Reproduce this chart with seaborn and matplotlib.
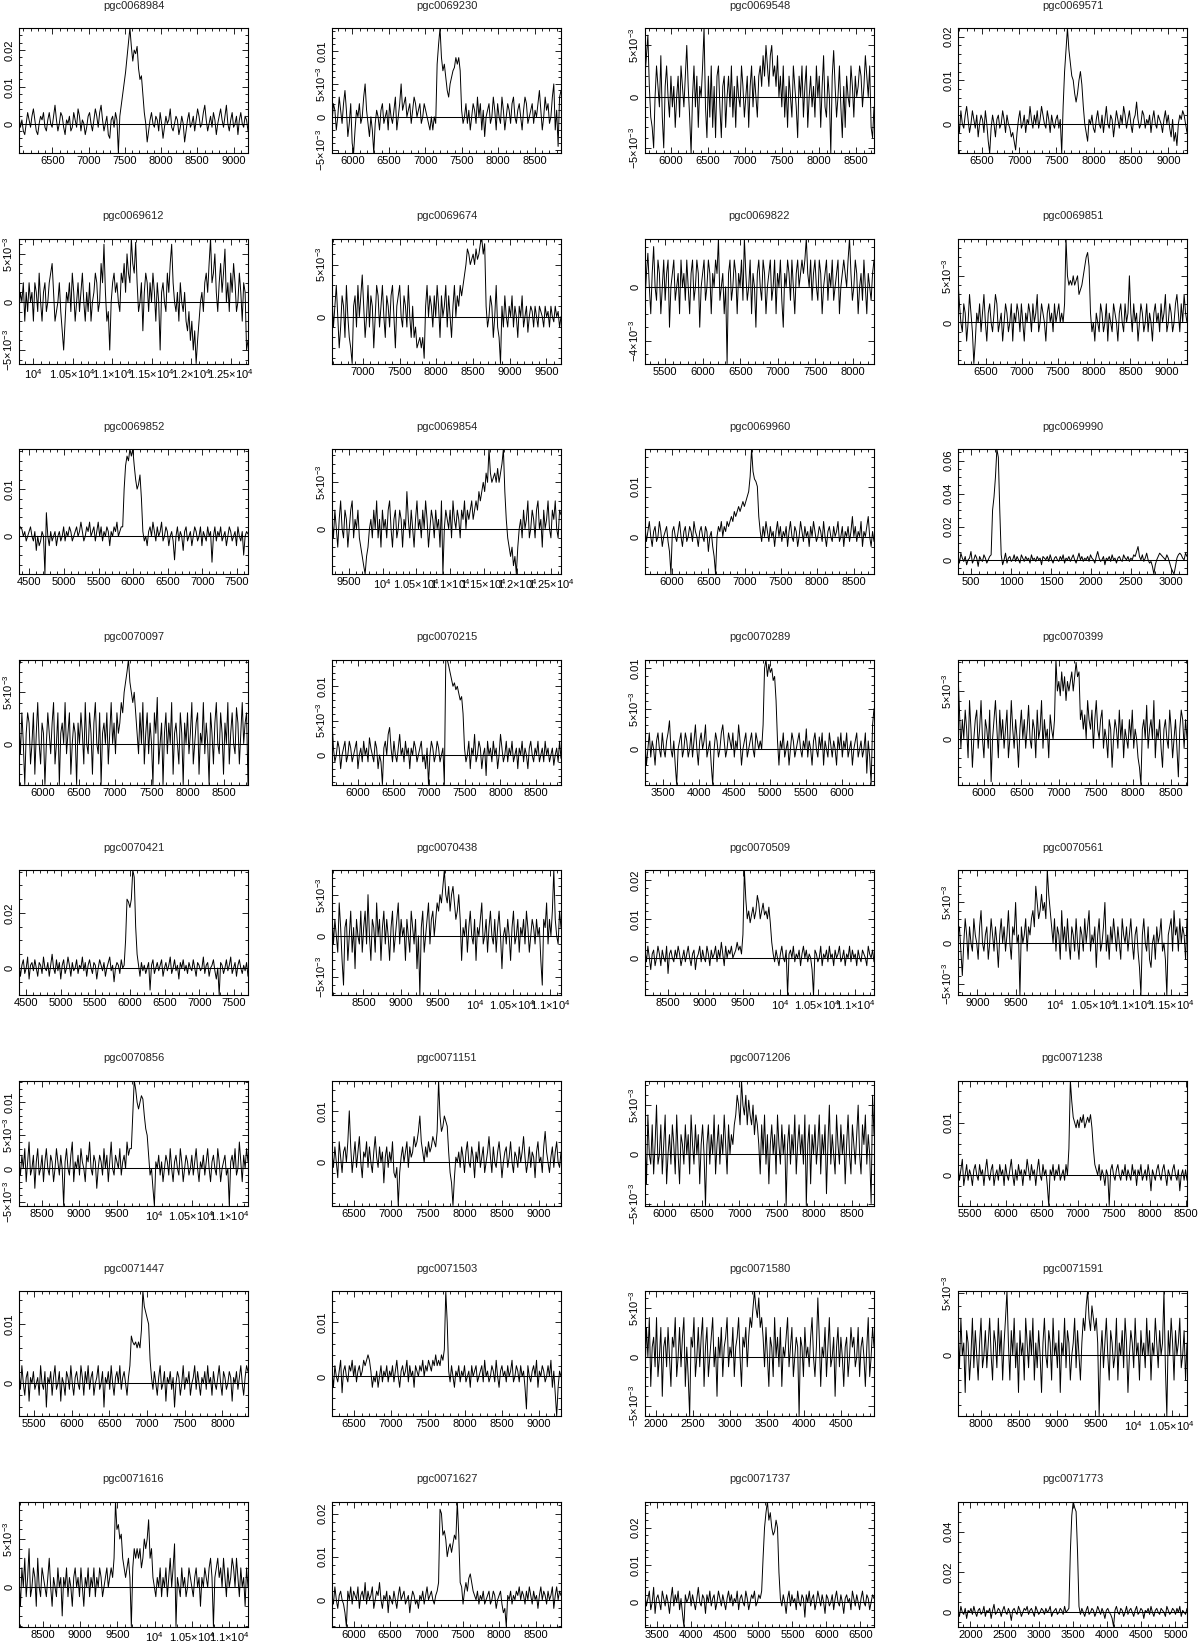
import numpy as np
import pandas as pd
import matplotlib
matplotlib.use("Agg")
import matplotlib.pyplot as plt
from matplotlib.ticker import MultipleLocator, FuncFormatter
import seaborn as sns

# ---------------- data (flux in mJy, channels evenly spaced over vel range) -------------
names = ["pgc0068984", "pgc0069230", "pgc0069548", "pgc0069571",
         "pgc0069612", "pgc0069674", "pgc0069822", "pgc0069851",
         "pgc0069852", "pgc0069854", "pgc0069960", "pgc0069990",
         "pgc0070097", "pgc0070215", "pgc0070289", "pgc0070399",
         "pgc0070421", "pgc0070438", "pgc0070509", "pgc0070561",
         "pgc0070856", "pgc0071151", "pgc0071206", "pgc0071238",
         "pgc0071447", "pgc0071503", "pgc0071580", "pgc0071591",
         "pgc0071616", "pgc0071627", "pgc0071737", "pgc0071773"]

vel_min = [6040, 5720, 5650, 6180, 9820, 6580, 5230, 6120,
           4350, 9250, 5630, 335, 5680, 5640, 3250, 5650,
           4400, 8080, 8200, 8750, 8200, 6200, 5740, 5340,
           5300, 6200, 1850, 7700, 8180, 5700, 3330, 1820]
vel_max = [9200, 8860, 8740, 9250, 12720, 9700, 8280, 9280,
           7660, 12650, 8780, 3200, 8830, 8850, 6450, 8720,
           7700, 11150, 11250, 11700, 11250, 9300, 8800, 8520,
           8340, 9300, 4950, 10700, 11250, 8850, 6700, 5170]
flux_min = [-8, -5.5, -5.5, -6.7, -6.4, -4.5, -5.7, -4.4,
            -8, -4.9, -7.5, -8.6, -4, -4.3, -4.4, -4.8,
            -9.8, -7.2, -9.5, -6.4, -5.6, -8.4, -5.2, -5.8,
            -5.5, -7.3, -6, -4.9, -4.1, -6.2, -6.5, -7]
flux_max = [26, 13.5, 6.7, 22, 6.6, 7.5, 3.6, 9,
            18.5, 8.6, 17.5, 67, 8.2, 13.9, 11.1, 8.3,
            35.6, 8, 22.5, 9, 13.3, 15.9, 7.5, 18,
            15.6, 15.8, 6.7, 5.2, 8.9, 22.8, 27, 55]
y_major = [10, 5, 5, 10, 5, 5, 4, 5, 10, 5, 10, 20, 5, 5, 5, 5,
           20, 5, 10, 5, 5, 10, 5, 10, 10, 10, 5, 5, 5, 10, 10, 20]
y_minor = [2, 1, 1, 2, 1, 1, 1, 1, 2, 1, 2, 5, 1, 1, 1, 1,
           5, 1, 2, 1, 1, 2, 1, 2, 2, 2, 1, 1, 1, 2, 2, 5]

f01 = [2, -1, 1, -2, -3, 0, 3, 1, -1, 2,
       4, 1, -2, -3, 0, 2, 1, 3, -1, -2,
       1, 3, 0, -1, 2, 5, 1, -2, 0, 3,
       2, -1, -3, 1, 0, 2, -2, -1, 3, 1,
       -1, 4, 2, -2, 1, 0, -3, -1, 2, 3,
       0, -2, 1, 4, 2, -1, 3, 5, 1, -2,
       0, 2, -3, -4, 1, 2, -1, 3, 1, -8,
       2, 5, 8, 11, 14, 18, 22, 26, 21, 17,
       20, 19, 21, 15, 12, 13, 8, 3, 0, -5,
       -2, 1, 3, 0, -1, 2, 1, -2, 3, 0,
       -4, -1, 2, 0, 1, 4, -1, -2, 0, 2,
       1, -3, -1, 2, 0, -5, -2, 1, 3, -1,
       0, 2, -2, 1, 4, 2, -1, 0, 3, 5,
       1, -2, 0, 2, -1, 3, 1, -3, 0, 2,
       4, 1, -1, 2, 5, 0, -2, 1, 3, -1,
       0, 2, -3, 1, 3, 0, -1, 2, 1, -2]
f02 = [-1, 2, 1, -2, 0, 3, 1, -1, 2, 4,
       1, -3, -1, 2, -4, -5.5, -2, 1, 0, 2,
       -1, 0, 3, 5, 1, -1, -3, 0, -2, -5.5,
       -1, 1, 0, -2, 1, 2, -1, 0, 1, -2,
       2, 0, -1, 1, 3, -2, 0, 2, 5, 1,
       2, 3, 0, 1, 2, -1, 1, 3, 2, 0,
       1, 2, -1, 0, 2, 1, 0, -1, -2, 0,
       -2, 0, -1, 8, 11, 13.5, 9, 7, 8, 6,
       4, 3, 5, 6, 7, 7.5, 9, 8, 9, 7,
       1, -1, 0, 2, -1, 1, -2, 0, 2, 1,
       -1, 3, 0, 2, -2, 1, -3, 0, 1, 2,
       -1, 0, 3, 1, -2, 2, 0, -1, 3, 1,
       -2, 0, 2, 1, -1, 2, 3, 0, -1, 1,
       2, 0, -2, 1, 3, 2, -1, 0, 1, 2,
       -1, 1, 0, 2, 4, 1, -2, 0, 3, 1,
       2, -1, 0, 3, 5, -2, 1, -4.5, 3, 4]
f03 = [2, 4, 6, 1, -2, -3, -5, 0, 3, 1,
       -1, 4, -2, -5, 1, 3, 0, -2, 2, -1,
       1, -3, 0, 2, -2, 3, 1, -1, 2, 5,
       1, -2, -5.5, 0, 3, -1, 2, -3, 1, 0,
       3, 6.7, -1, -4, 2, -2, 3, -3, 1, -4,
       2, 3, -1, -4, 1, 2, -3, 0, 2, -1,
       3, -2, 1, -3, 2, 0, -1, 3, 1, -2,
       0, 2, -3, 1, 3, -1, 2, 0, -2, 2,
       3, 1, 4, 2, 5, 3, 1, 4, 5, 2,
       3, 1, 4, 0, 2, -1, 3, -2, 1, -3,
       2, 0, -2, 3, 1, -1, -4, 2, 0, 3,
       -2, 1, 3, -3, 0, 2, -1, 1, -2, 3,
       0, 2, -3, 1, 4, -1, -2, 2, 0, -5.5,
       2, 4.5, 1, -2, 0, 3, -1, -4, 1, -3,
       2, 0, -1, 3, 1, -2, 2, 0, 1, 3,
       2, -1, 1, 4, 2, 0, 3, -3, -4, -1]
f04 = [1, -2, 3, 0, -1, 2, 4, 1, -2, 0,
       3, 1, -1, 2, -3, 0, 2, 1, -2, 3,
       0, -4, -6.7, -1, 2, 0, -3, 1, 2, -1,
       0, 3, 1, -2, 2, 0, -1, -3, -2, -4,
       -6, -2, 1, 3, -1, 0, 2, -2, 1, 0,
       4, 1, -1, 2, 0, 3, -1, 1, 4, 2,
       0, -1, 3, 1, -2, 2, 0, -1, 1, 2,
       -1, 1, -6.7, 4, 12, 17, 22, 17, 14, 11,
       10, 7, 5, 7, 10, 12, 9, 4, 0, -2,
       -4, 1, 0, 2, -1, -2, 1, 3, 0, -1,
       2, -2, 1, 4, 0, -1, 2, 1, -3, 0,
       3, 1, -1, 2, 0, 4, 2, -1, 1, 3,
       0, -2, 1, 2, 5, 1, -1, 0, 3, 2,
       -1, 1, 0, 2, -2, 1, 3, 0, -1, 2,
       1, 0, -2, 1, 3, 0, 2, -1, -3, 1,
       -4, -2, -5, 0, 2, 1, 3, 2, 0, -2]
f05 = [-1, 1, 0, 2, -2, 1, -1, 2, 0, 1,
       -2, 2, 1, -1, 3, 0, -2, 1, 2, -1,
       0, 2, 3, 4, 1, -2, -1, 0, 2, -1,
       -3, -5, -2, 1, 0, 2, -1, 3, 1, -2,
       0, 2, -1, 1, 3, 0, -2, 1, -1, 2,
       -2, 0, 1, 3, 2, -1, 0, 4, 2, 6,
       1, -2, -1, -5, 0, 2, 3, 1, 2, 0,
       -1, 3, 2, 4, 1, 5, 3, 2, 6.6, 4,
       3, 6.2, 2, -1, 0, 2, -3, 1, 3, 2,
       -1, 2, 0, 3, 1, -2, 2, 0, -5, 1,
       2, 0, -1, 3, 1, 4, 6, 2, 0, -1,
       1, -2, 2, 0, -1, 1, -2, -3, -1, -4,
       -2, -5, -3, -6.4, -4, -2, 0, 1, -1, 2,
       3, 1, 4, 6.6, 2, 3, 5, 1, -1, 2,
       4, 1, 3, 5.5, 0, 2, -1, 3, 1, 4,
       2, -1, 0, 3, 1, -2, 2, 1, -5, -4]
f06 = [2, -1, 1, 3, 0, -3, -1, 2, 1, -2,
       3, 0, -2, -3, -4.5, 1, 2, -1, 3, 0,
       2, 4, 1, -2, 0, 3, -1, 2, 1, -3,
       0, 3, 2, -1, 1, 3, 0, -2, 2, 1,
       -1, 2, 3, 0, -3, 1, 2, 3, 0, -1,
       2, 1, -1, 3, 0, -2, 1, -2, -1, -3,
       -2.5, -2, -3, -2, -4, 1, 3, 0, 2, 1,
       -1, 2, 0, 3, 1, -2, 2, 0, 1, 3,
       -1, 2, 0, -2, 1, 3, 0, 2, 1, 3,
       2, 3, 4, 5, 6.5, 6, 5, 5.5, 6, 5,
       6.5, 5.5, 6, 7, 7.5, 6, 7, 1, -1, 0,
       2, 1, -2, 0, 3, -1, -2, -4.5, 1, -1,
       2, 0, -1, 1, 0, 2, -1, 1, 0, -2,
       1, 0, 2, -1, 0, 1, -1.5, 0, 1, 0.5,
       -1, 1, 0, -1, 1, 0.5, 0, -1, 1, 0,
       0.5, -1, 1, 0, -0.5, 1, 0, 0.5, -1, 0]
f07 = [-1, 1, 2.5, 0, -2, 1, 3, 0, -1, 2,
       1, -2, 0, 2, -1, 1, 2, -3, 0, 1,
       2, -1, 0, 1, -2, 2, 0, 1, -1, 2,
       0, -2, 1, 2, -1, 0, 2, 1, -3, 0,
       1, 2, -1, 0, 2, 1, -2, 1, 0, 2,
       1, 3.6, -1, 0, 1, -2, 0, -5.7, 1, 2,
       -1, 0, 2, 1, -2, 1, 0, 2, -1, 3.6,
       1, -1, 0, 2, -2, 1, 0, -3, 1, 2,
       0, -1, 2, 1, -2, 0, 1, 2, -1, 0,
       2, -2, 1, 0, 2, -1, -3, 1, 0, 2,
       1, -1, 2, 0, -2, 1, 2, 0, 1, 2,
       1, 2, 3.6, 1, 0, 2, -1, 1, 2, 0,
       -1, 2, 1, -2, 0, 1, 2, -1, 1, 0,
       2, -1, 0, 1, 2, -2, 0, 1, 2, 1,
       0, 2, 3.6, 1, -1, 0, 2, 1, -2, 0,
       1, -1, 2, 0, -2, 1, 0, -1, 1, 2]
f08 = [4.5, 2, 0, -1, 2, 1, -2, 0, 3, 1,
       -1, -4.4, -2, 1, 0, 2, -1, 1, 3, 0,
       -2, 1, 2, 0, -1, 1, 3, 2, -1, 0,
       1, -2, 0, 2, 1, -1, 0, 2, -2, 1,
       0, 2, 1, -1, 2, 0, -2, 1, 0, 2,
       1, -1, 2, 0, 1, 3, -1, 0, 2, 1,
       0, -2, 1, 2, 0, 1, -1, 2, 0, 1,
       2, 0, 1, 0, 2, 9, 5, 4, 4.5, 4,
       5, 4, 4.5, 5, 3, 3.5, 4, 5, 6, 7,
       7.5, 6, 1, -1, 0, -2, 1, 0, -1, 2,
       1, -1, 0, 2, -2, 1, 0, -1, 2, 1,
       0, -2, 1, 2, 0, -1, 2, 0, 1, 5,
       1, -1, 2, 0, 1, -2, 0, 2, 1, -1,
       0, 2, -1, 1, 0, -2, 1, 2, 0, 1,
       -1, 2, 0, 1, 3, -1, 0, 2, 1, -1,
       0, 2, 3, 1, -1, 2, 0, 3, 1, 0]
f09 = [1, 2, 1.5, 0, 1, -1, 0, 1, 2, 0,
       -1, 1, -3, 0, -2, -1, 1, 0, -8, 5,
       0, -2, 1, -1, 0, 1, -2, 0, 1, -1,
       0, 2, -1, 1, 0, 2, 1, -1, 0, 1,
       2, 0, 1, 3, 1, -1, 0, 2, 1, 3,
       0, 1, 2, -1, 1, 3, 0, 2, -1, 1,
       0, 2, 1, -2, 1, 0, 2, 1, 3, 0,
       1, 2, 2, 10, 15, 17, 16, 18.5, 17, 18.5,
       15, 12, 10, 11, 13, 8, 1, -1, 0, -2,
       1, 2, 0, 3, 1, -1, 2, 0, 1, 3,
       -1, 0, 2, 1, -2, 0, 1, -1, -5, 0,
       2, -1, 1, 0, -3, 1, 2, -1, 0, 1,
       -2, 0, 2, 1, -1, 0, 2, -2, 1, 0,
       -1, 2, 0, 1, -5.5, 0, 2, -1, 1, 0,
       2, -1, 0, 1, -2, 0, 2, 1, -1, 0,
       1, -2, 2, 0, -1, 1, -4, 0, 1, 0.5]
f10 = [1, -1, 2, 0, -2, 1, 3, 0, -1, 2,
       1, -2, 0, 2, 3, -1, 1, 0, 2, -1,
       -2, -3, -4, -4.9, -3, -2, 0, 1, -1, 2,
       0, 3, -1, 1, -2, 2, 0, 1, -1, 2,
       3, 0, -2, 1, 2, -1, 0, 2, 1, -2,
       1, 0, 4, 1, -1, 2, 0, -2, 1, 3,
       0, 1, -1, 2, 0, 3, 1, -2, 0, 2,
       1, -1, 2, 0, 1, -2, 3, -4.9, 0, 2,
       1, 0, 2, -1, 3, 1, 0, 2, 1, -1,
       2, 1, 3, 0, 2, 1, 2, 3, 1, 2,
       3, 2, 4, 3, 4, 5, 4, 6, 5, 8.6,
       6, 5, 5.5, 6, 5, 6.5, 5, 6, 7, 8.6,
       4, 1, -1, -2, -3, -2, -4, -3, -4.9, -2,
       0, 1, -1, 2, 0, 1, 3, -1, 0, 2,
       1, -1, 2, 3, 0, 1, -2, 2, 0, 1,
       3, 0, -1, 2, 1, 3, 0, -1, 2, 1.5]
f11 = [2, -1, 1, 3, 0, -2, 1, 2, -1, 0,
       3, 1, -2, 0, 1, 2, -1, -3, -7.5, 1,
       2, 0, -1, 1, 3, 0, -2, 1, 2, -1,
       0, 2, 1, -1, 3, 1, 0, -2, 1, 2,
       0, -1, 2, 1, -3, 0, 1, -2, -4, -7.5,
       0, 2, 1, 3, 0, 2, 1, 3, 2, 3,
       4, 3, 5, 4, 5, 6, 5, 6, 7, 6,
       7, 8, 9, 12, 17.5, 13, 11.5, 11, 10, 4,
       1, -1, 2, 0, 3, 1, -1, 2, 0, 1,
       -2, 1, 3, 0, 2, -1, 1, 0, 2, -2,
       1, 3, 0, -1, 2, 1, -2, 0, 3, 1,
       -1, 2, 0, 1, -2, 2, 0, 3, 1, -1,
       0, 2, 1, -1, 3, 0, -2, 1, 2, 0,
       -1, 2, 0, 1, 3, -1, 0, 2, -2, 1,
       0, 2, -1, 1, 4, 0, 2, -1, 1, 0,
       3, -2, 1, 0, 2, 4, 0, -2, 1, -1]
f12 = [3, -2, 4, 1, -1, 2, -3, 0, 1, 5,
       -2, 0, 3, 1, -4, 2, 0, -1, 3, 1,
       -2, 0, 2, 3, 30, 38, 50, 67, 62, 30,
       3, -3, 0, 4, -2, 1, 2, -1, 0, 3,
       -1, 2, 0, -2, 3, 1, -1, 2, 0, 1,
       -2, 3, 0, 1, -1, 2, 0, 1, -3, 2,
       1, 0, 2, -1, 3, 0, -2, 1, 2, 0,
       -1, 2, 0, 3, -2, 1, 0, 2, -1, 1,
       3, 0, -2, 1, 4, 0, 2, -1, 1, 0,
       2, -1, 3, 1, 0, -2, 2, 5, 1, -1,
       0, 2, -3, 1, 0, 2, -1, 3, 0, 1,
       -2, 1, 2, 0, -1, 3, 1, 0, 2, -1,
       1, 0, 3, 2, 5, 8, 2, 0, 3, -1,
       1, 4, 0, -2, -1, -4, -8.6, -3, 0, 2,
       4, 3, 2, 1, 0, 3, 1, -2, -5, -7,
       -8.6, -4, 1, 3, 4, 3, 1, 0, 4, 2]
f13 = [2, -1, 3, 0, -4, 1, 3, 2, -2, 0,
       3, -3, 1, 4, 0, -2, 2, 1, -4, 0,
       3, 1, -1, 2, 4, -2, 0, 3, -4, 1,
       2, 0, 4, -1, 1, 3, -3, 0, 2, 1,
       -4, 2, 0, 3, 1, -2, 4, 0, -1, 3,
       1, -3, 2, 4, 0, -1, 3, -4, 1, 2,
       0, 3, -2, 1, 4, 0, 2, -1, 3, 1,
       2, 4, 3, 5, 6, 7, 8.2, 6, 5, 4,
       5, 3, 1, -1, 3, 0, 4, -2, 1, 3,
       -1, 2, 0, -4, 3, 1, 4.5, -2, 0, 2,
       -4, 1, 3, -1, 2, 0, 4, -3, 1, 2,
       0, -2, 3, 1, -4, 2, 0, 3, -1, 1,
       4, -2, 0, 2, 3, -3, 1, 0, 4, -1,
       2, 0, -4, 3, 1, -2, 2, 4, 0, -1,
       3, 1, -3, 2, 0, 4, -2, 1, 3, 0,
       -1, 3.5, 2, -2, 1, 4, 0, 2, 3, -4]
f14 = [5, 1, -1, 0, 2, 1, -2, 0, 1, 2,
       -1, 0, 2, 1, -1, 0, 1, 2, -2, 0,
       1, -1, 2, 0, 1, -1, 2.5, 1, 0, -1,
       2, 1, -2, 0, -1, -4.3, 1, 2, 0, 3,
       4, 1, -1, 2, 0, -1, 1, 3, 0, 1,
       -1, 2, 0, 1, -2, 1, 0, 2, 1, -1,
       0, 1, 2, -1, 0, -2, 1, -4.3, 0, 2,
       1, -1, 0, 2, 1, -1, 0, 1, -4.3, 13.9,
       13.9, 13, 12, 11, 10, 10.5, 9.5, 10, 9, 8,
       8.5, 6, 1, -1, 0, 2, -2, 1, 0, 3,
       -1, 0, 2, 1, -2, 0, 1, -3, 2, 0,
       1, -1, 2, 0, 1, -2, 0, 3, 1, -1,
       0, 2, -1, 1, 0, 2, -1, 0, 1, -2,
       1, 0, 2, -1, 1, 0, -2, 1, 2, 0,
       -1, 1, 0, 2, -1, 0, 1, -1, 2, 0,
       1, -1, 0, 1, -1.5, 0, 1, -1, 2, -0.5]
f15 = [1, -2, 0, 2, -1, 1, 0, -2, 1, 2,
       0, -1, 2, 0, -1, 1, 2, 3.5, 0, -1,
       1, -2, -4.4, 0, 1, 2, -1, 0, 2, 1,
       -1, 0, 2, -1, 1, 3, 0, -2, 1, 2,
       0, 1, 3, -1, 0, 1, -2, -4.4, 0, 2,
       1, -1, 0, 2, 3, 1, -1, 0, 2, 1,
       0, 2, -1, 1, 0, 3, 1, -2, 0, 1,
       2, -1, 0, 1, 2, 0, -1, 2, 1, 0,
       1, 0, 3, 10, 11.1, 9, 10.5, 9.5, 10, 8.5,
       9, 6, 1, -2, 1, 0, 2, -1, 0, 1,
       -2, 0, 2, 1, -1, 0, 1, 2, 0, -1,
       1, 0, 2.5, -1, 1, 0, -2, 1, 2, 0,
       -1, 1.5, 0, 2, -2, 1, 0, -1, 2, 0.5,
       -1, 1, 0, -2, 1.5, 0, 2, -1, 1, 0,
       2, -1, 0, 1, -2, 0, 1, 2, -1, 0,
       1, -1, 0, 2, -3, 1, -1, -4.4, 3, 5]
f16 = [7, 3, -1, 2, 0, 3, 1, -2, 4, 1,
       -3, 0, 2, 3, -1, 1, 4, 0, -2, 2,
       1, -1, 3, -4.5, 0, 2, 4, 1, -2, 3,
       0, 2, -1, 1, 3, -2, 0, 4, 1, -1,
       2, 0, -3, 1, 3, 0, 2, -1, 1, 3.5,
       0, -1, 2, 1, -2, 3, 0, 1, 4, -1,
       2, 0, 1, -2, 2.5, 1, 0, 2, 8.3, 5,
       6, 4.5, 7, 5, 6.5, 4, 6, 5, 6, 7,
       5, 6.5, 8, 6.5, 7, 2, 3, 1, 2.5, 0,
       4, 2, 1, 3, -1, 2, 4, 1, 0, 2,
       3, -1, 1, 0, -2, 2, 1, -3, 0, 2,
       1, -1, 3, 0, 2, -2, 1, 0, -1, 2,
       0, 3, -1, 1, 0, -2, -3, -4.8, 1, 2,
       0, 3.5, -1, 1, 2, 0, 4, -2, 1, 0,
       2, -1, -3, 1, 2, 0, -1, 3, 1, -2,
       0, 2, -1, -4, 1, 3, 2, -1, 2, 0]
f17 = [2, -3, 1, 3, -2, 0, 4, -4, 1, 2,
       -1, 3, 0, -3, 2, 1, -2, 4, 0, -1,
       2, -3, 1, 5, 0, -2, 3, -1, 2, -4,
       1, 3, -2, 0, 4, 1, -3, 2, -1, 0,
       3, -2, 1, 0, 4, -1, 2, -3, 1, 3,
       0, -2, 2, 1, -4, 0, 3, 1, -1, 2,
       -3, 0, 2, 4, -1, 1, -5, 0, 2, 1,
       -2, 3, 0, 1, 10, 25, 24, 22, 25, 35.6,
       33, 15, 5, 1, -3, 2, -1, 1, -2, 0,
       2, -8, 1, 3, -2, 0, 2, -1, 1, 3,
       -3, 0, 2, -1, 1, 4, -2, 0, 3, -1,
       1, -4, 2, 0, 3, -1, 1, -2, 2, 0,
       -1, 3, 0, -3, 2, 1, -1, 0, 4, -2,
       1, 2, -3, 0, 1, 3, -1, -4, 0, -9.8,
       2, 1, -2, 0, 3, -1, 1, 4, -2, 0,
       2, -3, 1, 3, 0, -2, 1, -1, 2, -3]
f18 = [3, -1, 2, 0, -2, 4, 1, -3, -6, 1,
       2, -3, 0, 3, -2, 1, -4, 2, 0, -1,
       3, -2, 1, 3, -1, 5, 0, -3, 2, 1,
       -2, 4, 0, 2, -3, 1, 3, -1, 2, 0,
       -3, 1, 3, -2, 0, 2, 4, -1, 2, 0,
       1, -3, 2, 0, -2, 3, 1, -1, 2, -4,
       0, -7.2, 1, 3, -2, 0, 2, 4, -1, 2,
       3, 0, 2, 4, 3, 5, 4, 6, 8, 5,
       4, 6, 3, 5, 6, 4, 2, 3, 5, 2,
       -3, 1, 0, 2, -2, 1, 3, 0, -1, 2,
       -3, 1, 0, 2, 4, -1, 0, 2, -2, 1,
       3, 0, -1, 2, -2, 1, 3, 0, -4, 0,
       1, -1, 2, 0, -3, 1, 3, -1, 0, 2,
       -2, 1, 0, 2, -1, 3, 1, -2, 0, 2,
       1, -1, 2, 0, 1, -3, -6, 2, 1, 4,
       -1, 2, 0, 3, 8, 2, 0, -1, 3, 1]
f19 = [2, -1, 3, 0, -3, 1, 2, -2, 0, 3,
       1, -2, 2, 0, -1, 3, -4, 1, 2, 0,
       -1, 2, 0, 3, 1, -2, 0, 2, -1, 1,
       3, 0, -2, 1, 2, -3, 0, 1, 3, -1,
       2, 0, -1, 3, 1, -2, 2, 0, 1, 3,
       -1, 2, 0, 4, 1, -2, 3, 0, 2, 1,
       3, 0, 1, 2, 4, 2, 3, 1, 6, 22.5,
       15, 10, 12, 9, 11, 13, 10, 12, 16, 14,
       10, 12, 14, 11, 12, 10, 13, 9, 4, 1,
       -1, 2, 0, -2, 1, 3, 0, -1, 2, -9.5,
       1, 2, 0, 3, -1, 1, 0, 2, -2, 1,
       3, 0, 2, -1, 1, 0, -3, -9.5, 2, 1,
       -1, 0, 3, -2, 1, 0, 2, -1, 3, 0,
       1, -2, 2, 0, 1, 3, -1, 0, 2, -2,
       1, 0, 3, -1, 2, 0, 1, -2, 2, 0,
       -1, 2, 1, 0, -2, 3, 1, 0, 2, -1]
f20 = [1, 2, -1, -4, 0, 3, 1, -2, 2, 0,
       -1, 3, 1, 0, -2, 2, 4, 0, -1, 1,
       2, -2, 0, 3, 1, -1, 2, 0, -3, 1,
       3, 0, 2, -1, 1, 4, 0, -2, 2, 1,
       5, 0, 1, -6.4, 2, 0, 1, 3, -1, 2,
       1, 3, 4, 2, 7, 5, 3, 4, 6, 4,
       5, 3, 9, 6, 4, 2, 0, 3, -1, 2,
       1, -2, 4, 0, 2, -1, 3, 0, -2, 2,
       1, -1, 3, 0, -2, 2, 1, -1, 3, 0,
       2, 4, -1, 1, 0, 2, -3, 1, 3, -1,
       0, 2, 5, -1, 1, -2, 2, 0, 3, 1,
       -1, 2, 0, -2, 3, 1, 0, 2, -1, 1,
       3, 0, -2, 1, 2, -1, -3, -6.4, 1, 3,
       0, -1, 2, -2, -3, 0, 1, -2, 2, 0,
       1, 3, -1, 0, -2, -6.4, 1, 2, 3, -1,
       4, 1, 2, -1, 3, 0, 2, 1, -2, 3]
f21 = [1, -1, 2, 0, 3, -2, 1, 4, -1, 0,
       2, -3, 1, 3, -1, 0, 2, -2, 1, 3,
       0, -1, 2, 1, -2, 0, 3, 1, -1, 2,
       0, -5.6, 1, 3, 0, -1, 2, 4, -2, 1,
       0, 2, -1, 3, 1, 0, -2, 2, 1, 4,
       0, -1, 2, 1, -3, 0, 2, 1, -1, 3,
       0, 2, -2, 1, 4, 0, -1, 2, 1, 0,
       3, -1, 1, 2, 0, 4, 2, 3, 3, 8,
       13.3, 12, 10, 9, 10, 11, 10.5, 8, 6, 5,
       2, -1, 0, -3, -5.6, 1, 0, 2, -1, 1,
       -2, 0, 2, 1, -1, 3, 0, -2, 1, 2,
       0, -1, 3, 1, -2, 0, 2, 1, -1, 0,
       2, -1, 1, 3, 0, -2, 1, 0, 2, -1,
       1, 3, 0, -2, 1, 2, 0, -1, 3, 1,
       -2, 0, 1, 2, -1, 0, -5.6, 1, 2, 0,
       3, -1, 0, 4, 1, -2, 2, 0, 3, 1]
f22 = [2, -1, 3, 0, -3, 4, 1, -2, 2, 3,
       0, 4, 10, 3, -2, 1, 4, -1, 2, 5,
       0, -3, 2, 1, 4, -1, 3, 0, -2, 2,
       5, 1, -1, 3, 0, 2, -4, 1, 3, -1,
       2, 0, 4, -2, -3, -1, -8.4, -2, 1, 3,
       0, 2, 4, -1, 3, 1, 2, 5, 3, 4,
       6, 9, 4, 2, 0, 3, 1, 4, 2, 3,
       5, 4, 3, 6, 15.9, 9, 6, 7, 9, 8,
       7, 2, -2, -4, -8.4, -3, 1, 0, 2, -1,
       3, 1, -2, 2, 4, 0, -1, 3, 1, -3,
       2, 0, 4, -1, 1, 3, -2, 0, 2, 5,
       1, -2, 3, 0, -1, 2, 4, 1, -3, 0,
       2, 3, -1, 1, 4, 0, -2, 2, 1, -1,
       3, 0, 2, 5, 1, -2, 0, 3, -1, 2,
       1, -3, 2, 4, 0, 1, -2, 3, 6, 2,
       0, -2, 1, 3, -1, 2, 4, 0, -1, 2]
f23 = [2, -3, 4, 0, -1, 3, -2, 1, 5, -1,
       0, 3, -2, 1, 4, -3, 0, 2, -1, 3,
       1, -2, 4, 0, -3, 2, 1, -1, 3, 0,
       2, -2, 4, 1, -1, 3, 0, 2, -3, 1,
       3, 0, -5.2, 1, 3, -1, 2, 0, 4, -2,
       1, 3, -1, 2, 0, 4, 1, -2, 3, 0,
       2, 1, 3, 4, 6, 5, 3, 7.5, 5, 4,
       6, 3, 5.5, 4, 3, 5, 2, 4, 3, 1,
       -2, 3, 0, 4, -1, 2, -3, 1, 3, 0,
       2, -2, 4, 1, -1, 3, 0, 2, -5.2, 1,
       3, -1, 2, 0, 4, -2, 1, 3, 0, 2,
       -1, 4, -5.2, 1, 3, -3, 2, 0, 3, -1,
       1, 4, -2, 2, 0, 3, -4, 1, 5, -1,
       2, 0, -2, 4, 1, -1, 3, 0, 2, -3,
       1, 4, 0, -2, 3, 1, -1, 2, 5, 0,
       -2, 3, 1, 4, -1, 2, 0, -5, 6, 2]
f24 = [2, -1, 1, 3, -2, 0, 2, -1, 1, 0,
       -2, 1, 2, 0, -1, 2, 0, 1, -2, 1,
       3, 0, -1, 1, 2, -2, 0, 1, -1, 2,
       0, 1, -2, 2, 0, -1, 1, 3, 0, -2,
       1, -1, 2, 0, 1, -2, 1, 0, 3, 1,
       -1, 2, 0, 1, -2, 1, 3, 0, -1, 2,
       0, 1, -2, -5.8, 1, 0, 2, -1, 1, 0,
       2, -1, 0, 1, -1, 2, 0, 5, 18, 14,
       11, 10, 9, 10.5, 9, 11, 10, 11.5, 9, 10,
       11, 10, 11.5, 9, 5, 2, 1, 0, 2, -1,
       1, 0, -2, 1, 0, -5.8, 1, 2, 0, -1,
       1, 2, 0, -1, 1, 0, 2, -1, 1, 0,
       -1, 2, 0, 1, -2, 1, 0, 2, -1, 0,
       1, -1, 2, 0, -3, 1, 0, -1, 1, 2,
       0, -1, 1, 2, 0, -2, 1, 0, -1, 1,
       2, 0, -1, 1, -3, 0, 1, -1, 1, -1]
f25 = [2, -1, 3, 0, -2, 1, 2, -3, 1, 0,
       2, -1, 0, 1, -2, 3, 0, -1, 2, -4,
       1, 0, 2, -2, 1, 3, -1, 0, 2, -3,
       1, 0, -2, 2, 1, -1, 3, 0, -2, 1,
       2, 0, -1, 3, 1, -2, 2, 0, 3, -1,
       1, 2, -2, 0, 1, 3, -1, 0, 2, -4,
       1, 0, 2, -1, 3, 0, -2, 1, 2, 0,
       3, -1, 1, 2, 0, -2, 1, 3, 8, 7,
       6.5, 7, 6, 7, 6, 9, 15.6, 13, 12, 11,
       10, 4, 1, -1, 2, 0, -2, 1, 3, -1,
       0, 2, -3, 1, 0, 2, -1, 1, -4, 0,
       2, 1, -2, 0, 3, -1, 1, 0, 2, -2,
       0, 1, 3, -1, 2, 0, -2, 1, 0, 2,
       -1, 3, 0, 1, -2, 2, 0, -1, 1, 3,
       0, -2, 2, 1, -1, 0, 2, 1, -3, 1,
       0, 2, -1, 1, 3, 0, -2, 1, 3, 2]
f26 = [1, -2, 2, 0, -1, 1, 3, -3, 1, 2,
       0, -1, 2, 1, 3, 0, 2, -1, 1, 2,
       0, 1, 3, 2, 3, 4, 3, 1, -2, 0,
       -1, 1, -2, 0, 2, -1, 1, 0, 2, -1,
       1, 0, 2, -1, 1, 3, 0, -2, 1, 2,
       0, 1, 3, -1, 2, 0, 1, -2, 2, 1,
       0, 2, 1, 3, 0, 2, 1, 3, 2, 1,
       3, 2, 4, 2, 3, 2, 4, 3, 5, 15.8,
       10, 1, -1, 2, 0, -2, 1, 0, 2, -1,
       1, 0, 2, -1, 0, 1, -2, 2, 0, 1,
       2, -1, 0, 1, 2, -1, 3, 0, 1, -1,
       0, 2, 1, -1, 3, 0, -2, 1, 2, 0,
       1, -1, 2, 0, 1, 3, -1, 0, 2, 1,
       -1, 2, 0, 1, -2, -6, 2, 0, -1, 1,
       2, 0, 3, -2, 1, 0, 2, 1, -1, 0,
       2, 0, 3, -2, 1, -3, -7.3, -2, 1, 0]
f27 = [-2, 3, 0, 4, -3, 1, 2, -1, 4, -2,
       0, 3, -4, 1, 2, -1, 3, 0, -3, 2,
       1, 4, -2, 0, 3, -1, 2, 4, -3, 1,
       -2, -6, 2, 1, 4, -2, 0, 3, -1, 2,
       4, -3, 1, 3, -2, 0, 2, 4, -1, 1,
       -4, 2, 0, 3, -2, 1, 2, 4, -1, 1,
       0, 3, -2, 1, 2, 4, 0, -3, 2, 1,
       3, -1, 2, 4, 3, 5, 6.7, 5, 4, 6,
       3, 4, 2, -1, 3, 0, -3, 2, 1, -2,
       4, 0, 2, -1, 3, -3, 1, 0, 2, 4,
       -1, 1, 3, -2, 0, 2, 1, -6, 2, 1,
       -2, 3, 0, 1, -1, 2, 4, 0, -2, 1,
       6, 2, -3, 1, 0, 3, -2, 1, 4, -1,
       0, 2, -4, 1, 3, -1, 2, 0, -3, 1,
       2, -2, 0, 3, 1, 2, -1, 0, 3, -2,
       1, 2, 0, -3, 1, 4, -2, 0, 3, 1]
f28 = [2, -1, 3, 0, 1, -3, 2, 1, -2, 0,
       3, -1, 2, 0, -2, 1, 3, -1, 0, 2,
       -1, 1, 3, 0, -2, 2, 1, -1, 3, 0,
       2, -2, 1, 3, 5.2, 1, -2, 2, 0, 3,
       -1, 1, -3, 2, 0, 1, -2, 3, 1, -1,
       2, 0, 3, -2, 1, -1, 2, 0, -3, 1,
       3, 0, -1, 2, 1, -2, 3, 0, 1, -1,
       2, -3, 1, 0, 3, -1, 2, 1, -2, 0,
       1, 3, -1, 2, 0, -2, 1, 3, 2, 4,
       5.2, 3, 2, 4, 3, 2, 3, 1, -4.9, 0,
       2, -1, 1, 3, 0, -2, 2, 1, -1, 0,
       3, -2, 1, 0, 2, -1, 3, 1, -3, 0,
       2, 1, -1, 3, 0, 1, -2, 2, 0, 1,
       -1, 3, 0, 2, -2, 1, 0, 3, 1, -1,
       2, 0, 1, 5.2, -1, -4.9, 2, 0, 3, 1,
       -2, 2, 0, 1, 3, -1, 0, 2, -2, 1]
f29 = [1, -2, 2, 0, 3, -1, 1, 4, -1, 0,
       2, 1, -2, 3, 0, -1, 2, 1, 0, -1,
       1, 3, 0, -2, 1, 0, -1, 2, 0, 1,
       -3, 1, 0, 2, -1, 1, 0, -2, 1, 2,
       0, 1, -1, 2, 0, -2, 1, 0, 2, -1,
       1, 0, 2, -1, 1, 0, 2, 1, -1, 0,
       1, 2, 0, 1, 2, 1, 3, 8.9, 6, 6.5,
       5, 5.5, 3, 2, 1, 2, 3, 1, -4.1, 2,
       4, 3, 4, 3, 4, 2, 3, 5, 4, 5,
       7, 3, 4, 1, 0, -1, 1, 0, 2, -1,
       1, 0, 2, -1, 1, 3, 0, 2, 4.5, -4.1,
       1, 0, -1, 2, 0, 1, -1, 0, 2, 1,
       0, -1, 1, 2, 0, 1, -2, 1, 0, 2,
       1, 0, 2, 3, 1, -4.1, 1, 2, 3, 1,
       2, 0, 3, 1, -1, 2, 0, 1, 3, 2,
       0, 3, 1, -1, 2, 0, 1, -2, 2, 0]
f30 = [1, -1, 3, 0, -2, 1, 2, 0, -1, -3,
       -6.2, 2, 0, 3, -1, 2, 1, 0, 3, -2,
       1, 2, 0, 4, -1, 2, 0, 1, 3, -2,
       0, 2, 1, 4, 0, -2, 1, 0, 2, -3,
       1, 0, -1, 2, 0, -2, 1, 3, 0, 1,
       2, -1, 0, 1, -3, 0, 2, 1, -1, 0,
       -2, 1, 0, 2, -1, 1, 3, 0, 1, 2,
       0, -1, 1, 2, 4, 21, 20, 15, 16, 14,
       10, 12, 13, 11, 13, 15, 14, 22.8, 15, 4,
       3, -1, 2, 4, 2, 5, 6, 4, 2, 1,
       0, 2, -1, 1, 0, 2, -1, 0, 1, 2,
       -1, 0, 2, 1, -2, 0, 1, 2, -1, -3,
       -2, -6.2, 1, 0, 2, -1, 1, 0, 2, 1,
       3, 0, 2, 1, -1, 2, 0, 3, 1, -1,
       2, 0, 1, -2, 1, 3, 0, 2, 1, -1,
       2, 0, 1, 3, -2, 1, 3, 0, 2, 1]
f31 = [2, -1, 1, 3, -2, 0, 4, -3, 1, 2,
       0, -2, 3, 1, -1, 2, 0, -3, 1, 4,
       -1, 2, 0, 3, -2, 1, -3, -6.5, 2, 0,
       1, 3, -1, 2, 0, -2, 1, 4, 0, -1,
       2, 1, -3, 2, 0, 3, -1, 1, 2, -2,
       0, 3, 1, -1, 2, 0, -2, 1, 3, 0,
       2, -1, 1, 0, 3, -2, 1, 2, 0, -1,
       3, 1, -2, 0, 2, 1, 3, -1, 0, 2,
       1, 3, 12, 20, 24, 27, 22, 24, 20, 18,
       19, 22, 20, 8, 1, -1, 2, 0, -3, 1,
       3, -1, 2, 0, 1, -2, 3, 0, -1, 2,
       1, -4, 2, 0, 3, -1, 1, 2, -2, 0,
       3, 1, -1, 2, 0, -3, 2, 1, -1, 0,
       2, -2, 1, 3, 0, -1, 2, 0, -3, 1,
       2, 0, 1, -2, 3, 1, -1, 2, 0, -2,
       1, 3, 0, -1, 2, 1, -2, 0, 2, 1]
f32 = [1, -2, 3, 0, -1, 2, -3, 1, 0, 2,
       -1, 3, 0, -2, 1, 2, -1, 0, 3, -2,
       1, 0, 2, -3, 1, 4, -1, 0, 2, 1,
       -2, 1, 3, 0, -1, 2, 0, -4, 1, 2,
       0, -1, 3, 1, -2, 0, 2, 1, 3, -1,
       1, 2, 0, -2, 3, 1, -1, 0, 2, 1,
       -1, 2, 0, 1, 3, -2, 0, 1, 2, -1,
       0, 2, 1, -1, 3, 0, 1, 2, 30, 48,
       55, 52, 50, 30, 3, -1, 2, 0, -2, 1,
       3, -1, 0, 2, 1, -2, 0, 3, 1, -1,
       2, 0, -3, 1, 2, 0, -1, -3, -7, 1,
       3, 0, -1, 2, 1, -2, 0, 3, -1, 1,
       2, 0, -2, 1, 3, -1, 0, 2, 1, -3,
       1, 0, 2, -1, 3, 0, -2, 1, 2, 0,
       -1, 2, 1, 0, -2, 3, 1, -1, 0, 2,
       1, -1, 2, 0, 3, -2, 1, 0, -1, 2]

fluxes = [f01, f02, f03, f04, f05, f06, f07, f08, f09, f10, f11, f12, f13, f14, f15, f16,
          f17, f18, f19, f20, f21, f22, f23, f24, f25, f26, f27, f28, f29, f30, f31, f32]

# ---------------- style -------------
sns.set_style("ticks")
plt.rcParams['font.family'] = ['Liberation Sans', 'DejaVu Sans']
plt.rcParams['mathtext.fontset'] = 'custom'
plt.rcParams['mathtext.rm'] = 'Liberation Sans'
plt.rcParams['mathtext.it'] = 'Liberation Sans:italic'
plt.rcParams['mathtext.bf'] = 'Liberation Sans:bold'
plt.rcParams['axes.edgecolor'] = 'black'
plt.rcParams['xtick.color'] = 'black'
plt.rcParams['ytick.color'] = 'black'

W, H = 1200, 1645
fig = plt.figure(figsize=(W / 100, H / 100), dpi=100)
fig.patch.set_facecolor('white')


def xfmt(v, pos):
    v = int(round(v))
    if v < 10000:
        return str(v)
    if v == 10000:
        return r'$10^{4}$'
    return r'$%g{\times}10^{4}$' % (v / 10000.0)


def yfmt(v, pos):
    if abs(v) < 1e-6:
        return '0'
    if abs(v) >= 9.999:
        return ('%g' % round(v / 1000.0, 4)).replace('-', '\u2212')
    return r'$%g{\times}10^{-3}$' % round(v, 3)


for i, name in enumerate(names):
    r, c = divmod(i, 4)
    left = 19 + 313 * c
    top = 28 + 210.5 * r
    ax = fig.add_axes([left / W, 1 - (top + 125) / H, 229 / W, 125 / H])
    flux = np.array(fluxes[i], dtype=float)
    vel = np.linspace(vel_min[i], vel_max[i], len(flux))
    df = pd.DataFrame({'vel': vel, 'flux': flux})
    sns.lineplot(data=df, x='vel', y='flux', ax=ax, color='black', lw=0.7,
                 estimator=None, sort=False, errorbar=None)
    ax.axhline(0, color='black', lw=0.75)
    ax.set_xlim(vel_min[i], vel_max[i])
    ax.set_ylim(flux_min[i], flux_max[i])
    ax.set_xlabel('')
    ax.set_ylabel('')
    ax.set_title(name, fontsize=8, pad=14)
    ax.xaxis.set_major_locator(MultipleLocator(500))
    ax.xaxis.set_minor_locator(MultipleLocator(100))
    ax.yaxis.set_major_locator(MultipleLocator(y_major[i]))
    ax.yaxis.set_minor_locator(MultipleLocator(y_minor[i]))
    ax.xaxis.set_major_formatter(FuncFormatter(xfmt))
    ax.yaxis.set_major_formatter(FuncFormatter(yfmt))
    ax.tick_params(which='both', direction='in', top=True, right=True,
                   labelsize=8, width=0.6)
    ax.tick_params(which='major', length=4)
    ax.tick_params(which='minor', length=2)
    ax.tick_params(axis='x', pad=2.5)
    ax.tick_params(axis='y', pad=3, labelrotation=90)
    for lab in ax.get_yticklabels():
        lab.set_va('center')
    for sp in ax.spines.values():
        sp.set_linewidth(0.8)
        sp.set_color('black')

fig.savefig('out.png', dpi=100, facecolor='white')
